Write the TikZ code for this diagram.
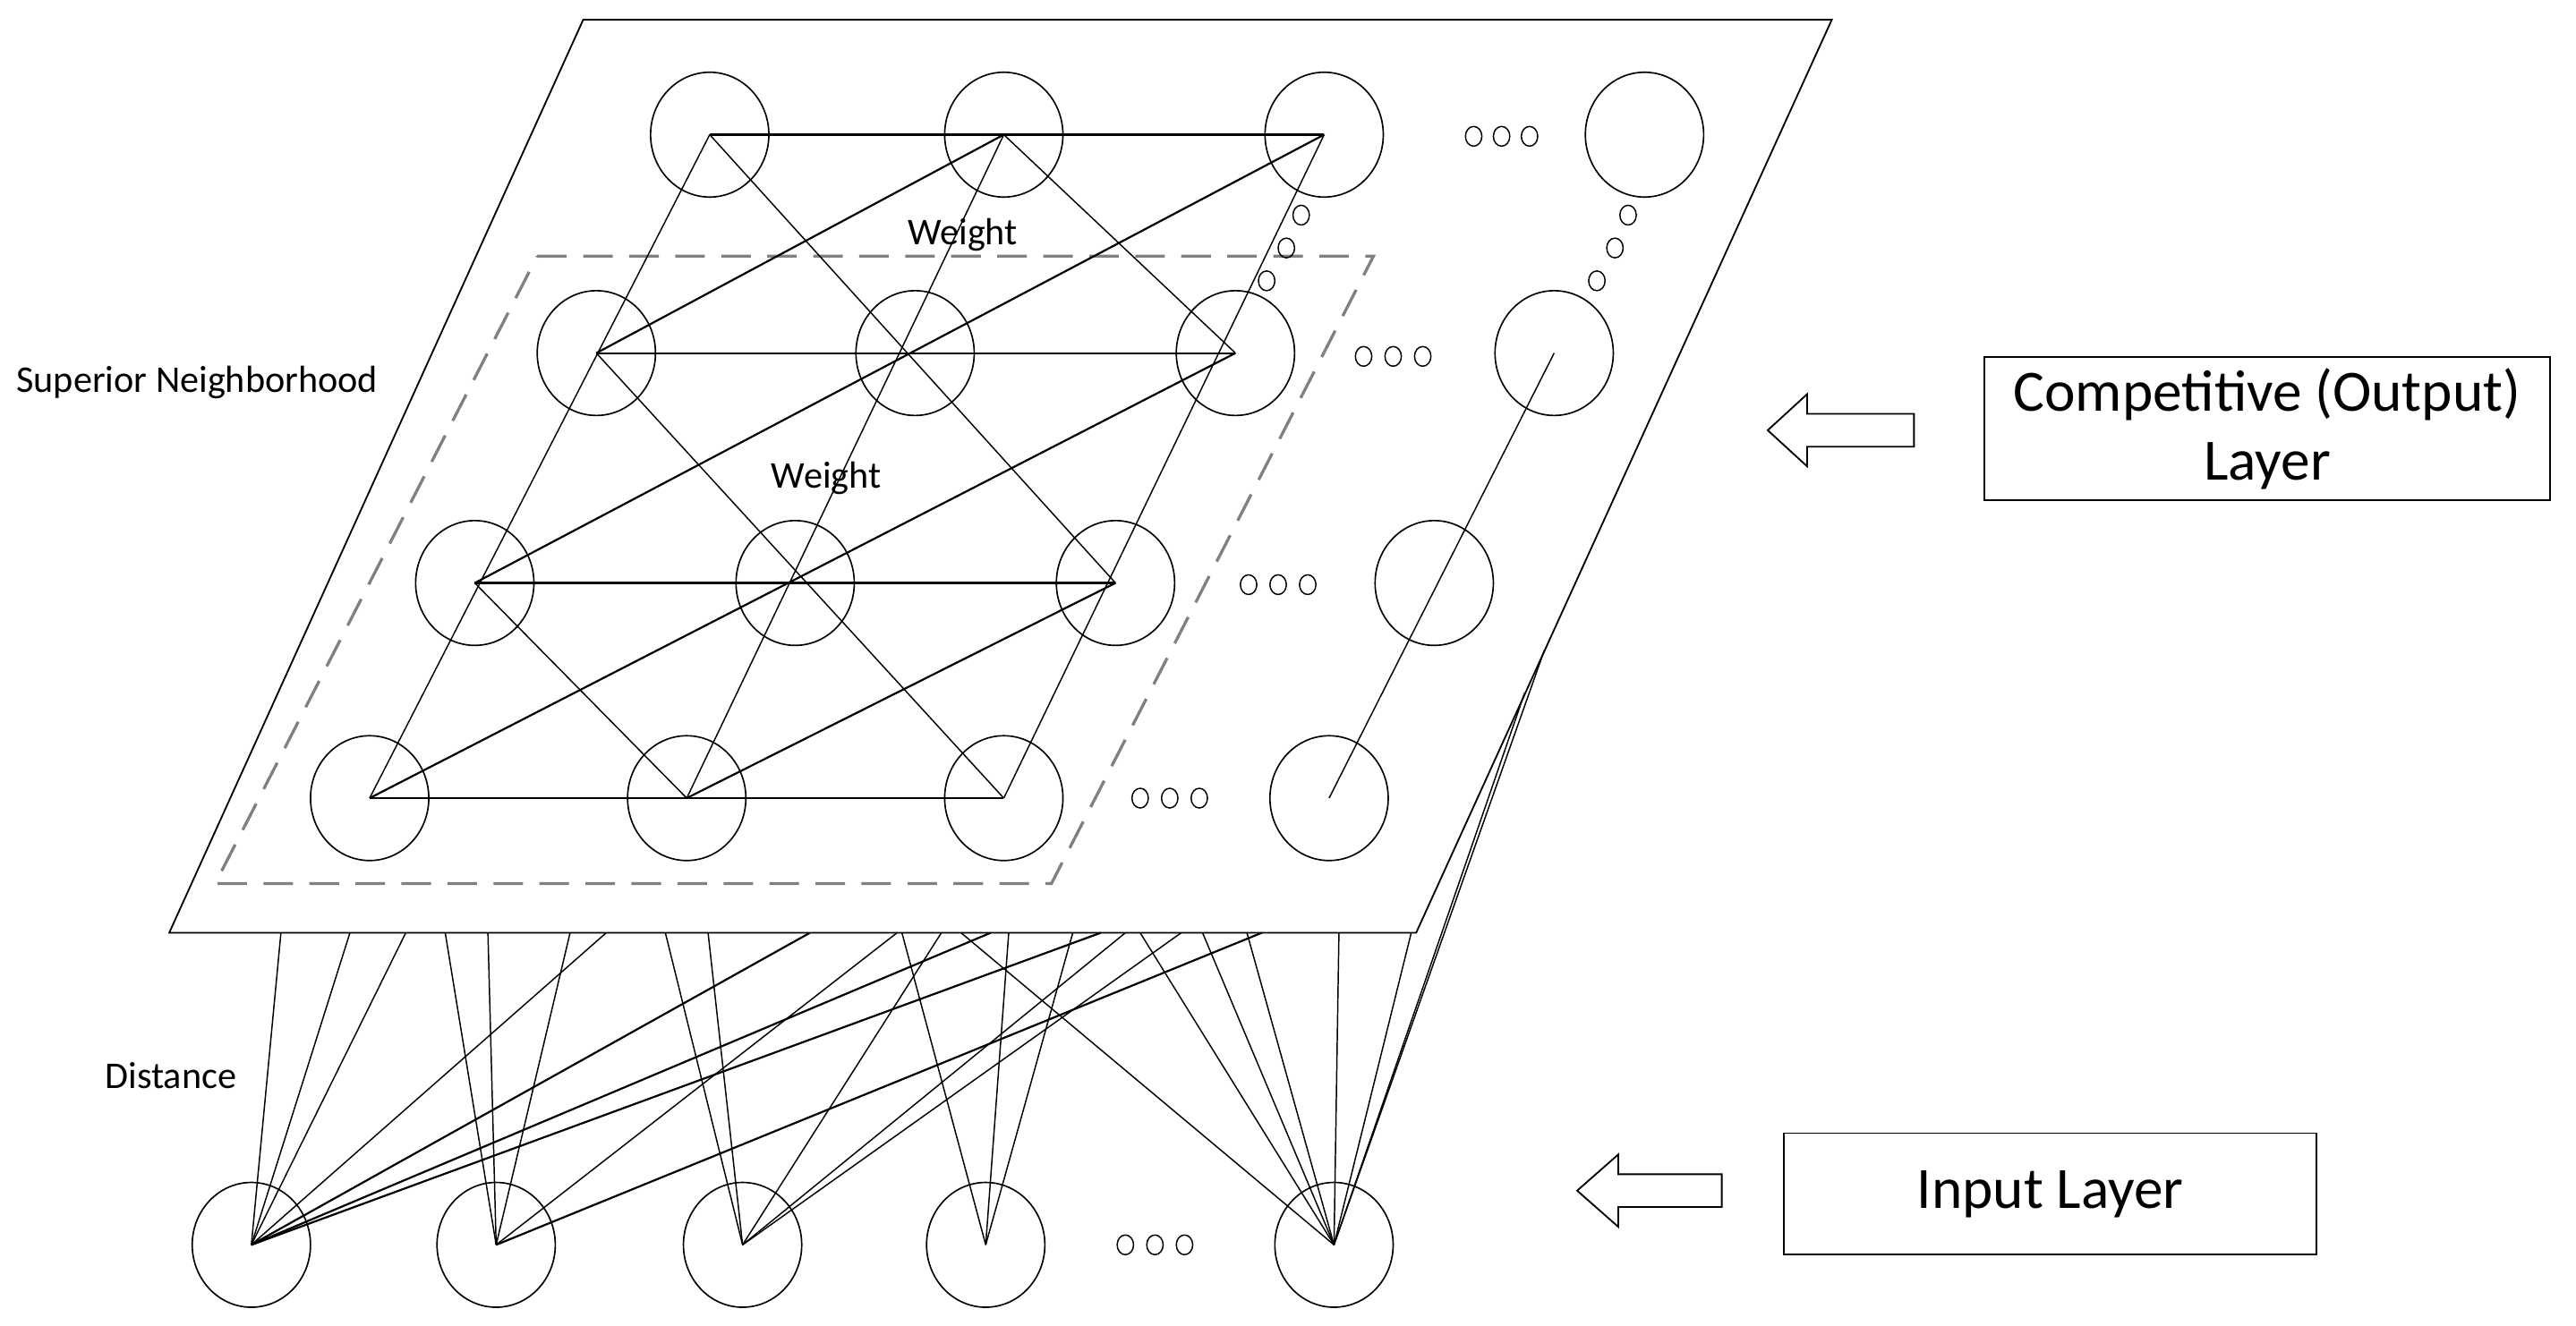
\documentclass[tikz,border=0pt]{standalone}
\usepackage{fontspec}
\setmainfont{Carlito}
\usetikzlibrary{shapes.geometric}
\begin{document}
\begin{tikzpicture}[x=0.5pt,y=-0.5pt,
  neuron/.style={draw,ellipse,minimum width=36pt,minimum height=38pt,inner sep=0pt,line width=0.45pt},
  dot/.style={draw,ellipse,minimum width=5pt,minimum height=6pt,inner sep=0pt,line width=0.4pt},
  ln/.style={line width=0.4pt},
  tk/.style={line width=0.6pt},
  lbl/.style={font=\fontsize{11.5pt}{13pt}\selectfont},
  box/.style={draw,line width=0.5pt,font=\fontsize{17.8pt}{21pt}\selectfont,align=center}]
\useasboundingbox (0,0) rectangle (1568,807);
% plane
\draw[line width=0.5pt] (355,12) -- (1115,12) -- (862,568) -- (103,568) -- cycle;
\draw[gray,dashed,line width=0.9pt,dash pattern=on 9pt off 5pt] (327,156) -- (836,156) -- (640,538) -- (131,538) -- cycle;
% output nodes
\foreach \x [count=\i] in {432,611,806,1001} \node[neuron] (a\i) at (\x,82) {};
\foreach \x [count=\i] in {363,557,752,946} \node[neuron] (b\i) at (\x,215) {};
\foreach \x [count=\i] in {289,484,679,873} \node[neuron] (c\i) at (\x,355) {};
\foreach \x [count=\i] in {225,418,611,809} \node[neuron] (d\i) at (\x,486) {};
% grid lines
\draw[tk] (a1.center) -- (a3.center);
\draw[tk] (b1.center) -- (b3.center);
\draw[tk] (c1.center) -- (c3.center);
\draw[tk] (d1.center) -- (d3.center);
\draw[ln] (a1.center) -- (d1.center);
\draw[ln] (a2.center) -- (d2.center);
\draw[ln] (a3.center) -- (d3.center);
\draw[ln] (a1.center) -- (c3.center);
\draw[ln] (a2.center) -- (b3.center);
\draw[ln] (b1.center) -- (d3.center);
\draw[ln] (c1.center) -- (d2.center);
\draw[tk] (d1.center) -- (b3.center);
\draw[tk] (d2.center) -- (c3.center);
\draw[tk] (c1.center) -- (a3.center);
\draw[tk] (b1.center) -- (a2.center);
\draw[ln] (b4.center) -- (d4.center);
% dots
\foreach \x [count=\i] in {897,914,931} \node[dot] (da\i) at (\x,83) {};
\foreach \x [count=\i] in {830,848,866} \node[dot] (db\i) at (\x,217) {};
\foreach \x [count=\i] in {760,778,796} \node[dot] (dc\i) at (\x,356) {};
\foreach \x [count=\i] in {694,712,730} \node[dot] (dd\i) at (\x,486) {};
\foreach \x [count=\i] in {685,703,721} \node[dot] (de\i) at (\x,758) {};
\node[dot] (v1) at (792,131) {};
\node[dot] (v2) at (783,151) {};
\node[dot] (v3) at (771,171) {};
\node[dot] (w1) at (991,131) {};
\node[dot] (w2) at (983,151) {};
\node[dot] (w3) at (972,171) {};
% labels
\node[lbl] (t1) at (586,143) {Weight};
\node[lbl] (t2) at (503,291) {Weight};
\node[lbl] (t3) at (120,233) {Superior Neighborhood};
\node[lbl] (t4) at (104,655) {Distance};
% input nodes
\foreach \x [count=\i] in {153,302,452,600,812} \node[neuron] (n\i) at (\x,758) {};
% connectors
\foreach \x in {171,213,247,369} \draw[ln] (n1.center) -- (\x,568);
\foreach \x in {493,603,670} \draw[tk] (n1.center) -- (\x,568);
\foreach \x in {271,297,347,546} \draw[ln] (n2.center) -- (\x,568);
\draw[tk] (n2.center) -- (768,568);
\foreach \x in {405,431,573,685,719} \draw[ln] (n3.center) -- (\x,568);
\foreach \x in {549,614,653} \draw[ln] (n4.center) -- (\x,568);
\foreach \x in {585,694,732,759,815,859} \draw[ln] (n5.center) -- (\x,568);
\draw[ln] (n5.center) -- (928,422);
\draw[ln] (n5.center) -- (940,396);
% boxes
\node[box,minimum width=172pt,minimum height=43pt] (out) at (1380,261) {Competitive (Output)\\Layer};
\node[box,minimum width=162pt,minimum height=37pt] (in) at (1248,727) {Input Layer};
% hollow arrows
\draw[line width=0.5pt] (1076,262) -- (1100,240) -- (1100,252) -- (1165,252) -- (1165,272) -- (1100,272) -- (1100,284) -- cycle;
\draw[line width=0.5pt] (960,725) -- (985,703) -- (985,715) -- (1048,715) -- (1048,735) -- (985,735) -- (985,747) -- cycle;
\end{tikzpicture}
\end{document}
